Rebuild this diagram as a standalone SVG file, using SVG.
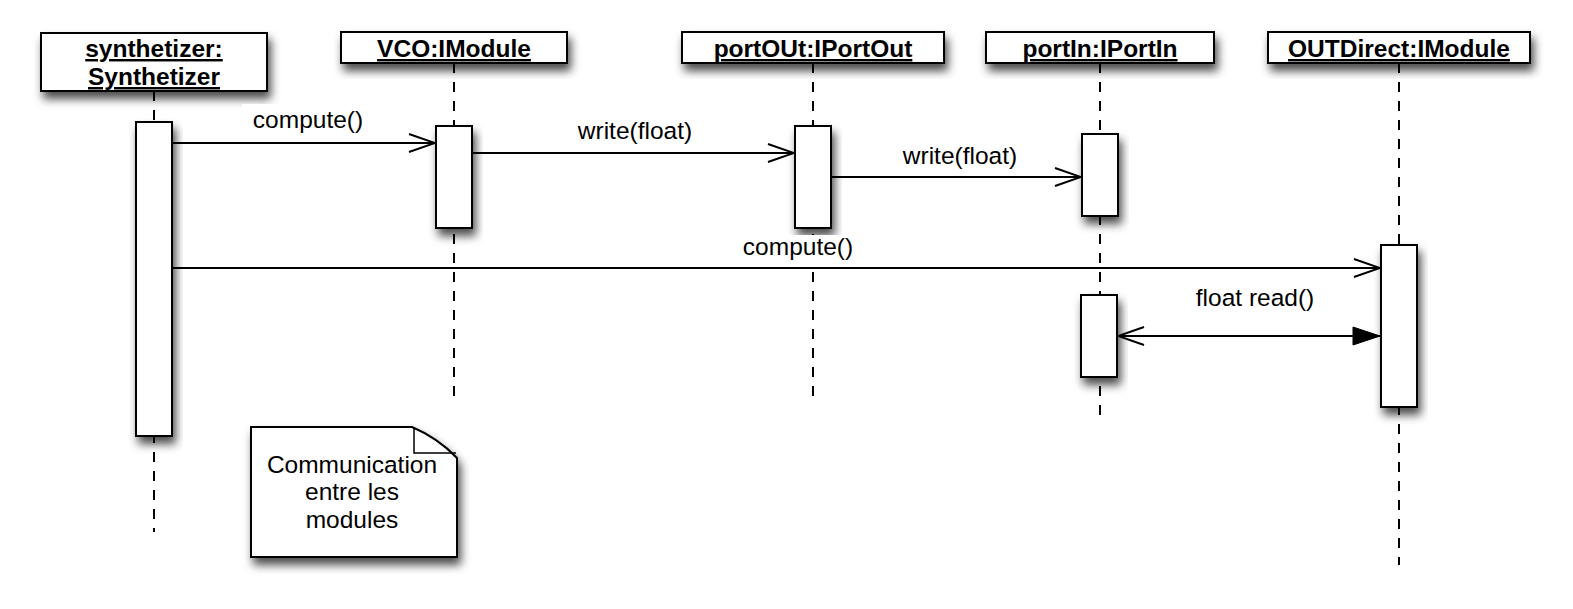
<svg xmlns="http://www.w3.org/2000/svg" width="1573" height="609" viewBox="0 0 1573 609">
<defs>
<filter id="sh" x="-30%" y="-30%" width="160%" height="180%">
<feDropShadow dx="3" dy="7" stdDeviation="5" flood-color="#000" flood-opacity="0.7"/>
</filter>
<marker id="open" viewBox="0 0 30 20" refX="28" refY="10" markerWidth="30" markerHeight="20" markerUnits="userSpaceOnUse" orient="auto-start-reverse">
<path d="M2,1 L28,10 L2,19" fill="none" stroke="#000" stroke-width="2"/>
</marker>
<marker id="filled" viewBox="0 0 30 20" refX="28" refY="10" markerWidth="30" markerHeight="20" markerUnits="userSpaceOnUse" orient="auto">
<path d="M1,1 L28,10 L1,19 Z" fill="#000" stroke="#000" stroke-width="1"/>
</marker>
</defs>
<style>
.box{fill:#fff;stroke:#000;stroke-width:2;filter:url(#sh)}
.act{fill:#fff;stroke:#000;stroke-width:2;filter:url(#sh)}
.life{stroke:#000;stroke-width:2;stroke-dasharray:10 9;fill:none}
.msg{stroke:#000;stroke-width:1.8;fill:none}
.hdr{font-family:"Liberation Sans",Arial,sans-serif;font-weight:bold;font-size:24.5px;text-anchor:middle;text-decoration:underline}
.lbl{font-family:"Liberation Sans",Arial,sans-serif;font-size:24.5px;text-anchor:middle}
.bg{fill:#fff}
</style>
<rect width="1573" height="609" fill="#fff"/>

<g id="lifelines">
<line class="life" x1="154" y1="91" x2="154" y2="532"/>
<line class="life" x1="454" y1="63" x2="454" y2="405"/>
<line class="life" x1="813" y1="63" x2="813" y2="405"/>
<line class="life" x1="1100" y1="63" x2="1100" y2="420"/>
<line class="life" x1="1399" y1="63" x2="1399" y2="565"/>
</g>

<g id="synthetizer">
<rect class="box" x="41" y="33" width="226" height="58"/>
<text class="hdr" x="154" y="57">synthetizer:</text>
<text class="hdr" x="154" y="85">Synthetizer</text>
<rect class="act" x="136" y="122" width="36" height="314"/>
</g>

<g id="vco">
<rect class="box" x="341" y="32" width="226" height="31"/>
<text class="hdr" x="454" y="57">VCO:IModule</text>
<rect class="act" x="436" y="126" width="36" height="102"/>
</g>

<g id="portOUt">
<rect class="box" x="682" y="32" width="262" height="31"/>
<text class="hdr" x="813" y="57">portOUt:IPortOut</text>
<rect class="act" x="795" y="126" width="36" height="102"/>
</g>

<g id="portIn">
<rect class="box" x="986" y="32" width="228" height="31"/>
<text class="hdr" x="1100" y="57">portIn:IPortIn</text>
<rect class="act" x="1082" y="134" width="36" height="82"/>
<rect class="act" x="1081" y="295" width="36" height="82"/>
</g>

<g id="outdirect">
<rect class="box" x="1268" y="32" width="262" height="31"/>
<text class="hdr" x="1399" y="57">OUTDirect:IModule</text>
<rect class="act" x="1381" y="245" width="36" height="162"/>
</g>

<g id="connectors">
<line class="msg" x1="172" y1="143" x2="435" y2="143" marker-end="url(#open)"/>
<rect class="bg" x="242" y="104" width="122" height="30"/>
<text class="lbl" x="308" y="128">compute()</text>

<line class="msg" x1="472" y1="153" x2="794" y2="153" marker-end="url(#open)"/>
<text class="lbl" x="635" y="139">write(float)</text>

<line class="msg" x1="831" y1="177" x2="1081" y2="177" marker-end="url(#open)"/>
<text class="lbl" x="960" y="164">write(float)</text>

<line class="msg" x1="172" y1="268" x2="1380" y2="268" marker-end="url(#open)"/>
<rect class="bg" x="740" y="235" width="116" height="28"/>
<text class="lbl" x="798" y="255">compute()</text>

<line class="msg" x1="1118" y1="336" x2="1380" y2="336" marker-start="url(#open)" marker-end="url(#filled)"/>
<text class="lbl" x="1255" y="306">float read()</text>
</g>

<g id="note">
<path d="M251,427 H412 Q438,438 457,458 V557 H251 Z" fill="#fff" stroke="#000" stroke-width="2" filter="url(#sh)"/>
<path d="M414,428 V453 H456" fill="none" stroke="#000" stroke-width="1.5"/>
<text class="lbl" x="352" y="473" font-size="25">Communication</text>
<text class="lbl" x="352" y="500" font-size="25">entre les</text>
<text class="lbl" x="352" y="528" font-size="25">modules</text>
</g>
</svg>
